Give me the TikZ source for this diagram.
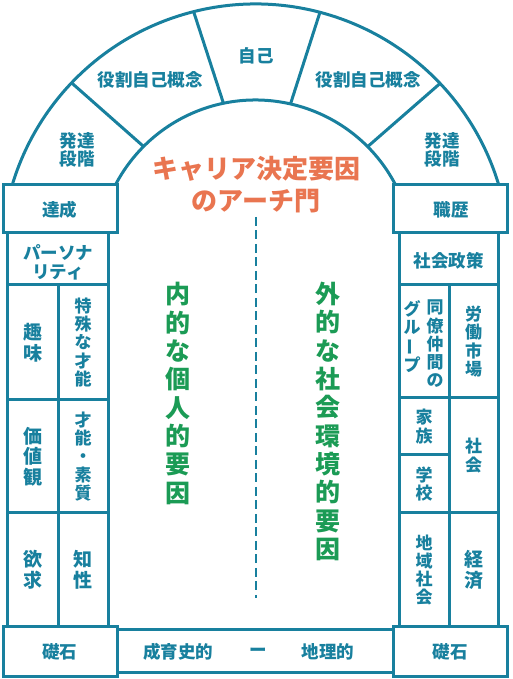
\documentclass[tikz,border=0pt]{standalone}
\usepackage{fontspec}
\setmainfont{Noto Sans CJK JP}
\usetikzlibrary{calc}
\definecolor{archblue}{HTML}{18809E}
\definecolor{innergreen}{HTML}{1B9B55}
\definecolor{titleorange}{HTML}{E97550}
\begin{document}
\begin{tikzpicture}[x=1pt,y=1pt,
    wall/.style={draw=archblue,line width=3pt},
    block/.style={draw=archblue,line width=3pt,fill=white},
    lbl/.style={text=archblue,font=\bfseries\fontsize{17.5}{17.5}\selectfont,align=center,inner sep=0pt},
    tate/.style={text=archblue,font=\bfseries\fontsize{19}{20.5}\selectfont,align=center,inner sep=0pt},
    tatenarrow/.style={text=archblue,font=\bfseries\fontsize{17}{18.2}\selectfont,align=center,inner sep=0pt},
    bigtext/.style={font=\bfseries\fontsize{25}{28.3}\selectfont,align=center,inner sep=0pt}]
      \useasboundingbox (0,0) rectangle (513,679);
      \coordinate (hub) at (255.5,421);
      \draw[wall] ($(hub)+(16.7:254)$) arc (16.7:163.3:254);
      \draw[wall] ($(hub)+(27.5:158)$) arc (27.5:152.5:158);
      \draw[wall] ($(hub)+(104.1:254)$) -- ($(hub)+(101.7:158)$);
      \draw[wall] ($(hub)+(75.3:254)$) -- ($(hub)+(77.2:158)$);
      \draw[wall] ($(hub)+(136.4:254)$) -- ($(hub)+(135.1:158)$);
      \draw[wall] ($(hub)+(43.4:254)$) -- ($(hub)+(44.8:158)$);
      \draw[block] (3,446) rectangle (117,494); \node[lbl] (tassei) at (59.5,469.5) {達成};
      \draw[block] (393,446) rectangle (507,494); \node[lbl] (shokureki) at (451,469.5) {職歴};
      \draw[wall] (7,52) rectangle (108,446);
      \draw[wall] (7,394) -- (108,394);
      \draw[wall] (7,279) -- (108,279);
      \draw[wall] (7,166) -- (108,166);
      \draw[wall] (58,52) -- (58,394);
      \draw[wall] (399,52) rectangle (498,446);
      \draw[wall] (399,394) -- (498,394);
      \draw[wall] (399,281) -- (498,281);
      \draw[wall] (399,224) -- (449,224);
      \draw[wall] (399,166) -- (498,166);
      \draw[wall] (449,52) -- (449,394);
      \draw[block] (117,6) rectangle (393,49);
      \draw[block] (3,2) rectangle (117,52); \node[lbl] (soseki1) at (59.5,27) {礎石};
      \draw[block] (393,2) rectangle (507,52); \node[lbl] (soseki2) at (450,27) {礎石};
      \draw[draw=archblue,line width=2.5pt,dash pattern=on 9pt off 4.5pt] (256,462) -- (256,81);
      \node[lbl] (jiko) at (256,623) {自己};
      \node[lbl] (yakuwari1) at (150,599) {役割自己概念};
      \node[lbl] (yakuwari2) at (368,599) {役割自己概念};
      \node[lbl] (hattatsu1) at (77,529) {発達\\段階};
      \node[lbl] (hattatsu2) at (442,529) {発達\\段階};
      \node[bigtext,text=titleorange,font=\bfseries\fontsize{26}{32}\selectfont] (title) at (256,494) {キャリア決定要因\\のアーチ門};
      \node[bigtext,text=innergreen] (naiteki) at (178,285.5) {内\\的\\な\\個\\人\\的\\要\\因};
      \node[bigtext,text=innergreen] (gaiteki) at (328,257.5) {外\\的\\な\\社\\会\\環\\境\\的\\要\\因};
      \node[lbl,font=\bfseries\fontsize{17.5}{19}\selectfont] (persona) at (58,417) {パーソナ\\リティ};
      \node[tate] (shumi) at (32.5,336.5) {趣\\味};
      \node[tatenarrow] (tokushu) at (83,336.5) {特\\殊\\な\\才\\能};
      \node[tate] (kachikan) at (32.5,222.5) {価\\値\\観};
      \node[tatenarrow] (sainou) at (83,222.5) {才\\能\\・\\素\\質};
      \node[tate] (yokkyu) at (32.5,109) {欲\\求};
      \node[tate] (chisei) at (83,109) {知\\性};
      \node[lbl] (seisaku) at (448.5,418) {社会政策};
      \node[tatenarrow,anchor=north] (douryou) at (435,379) {同\\僚\\仲\\間\\の};
      \node[tatenarrow,anchor=north] (group) at (412,379) {グ\\ル\\\rotatebox[origin=c]{90}{ー}\\プ};
      \node[tatenarrow] (roudou) at (473.5,337.5) {労\\働\\市\\場};
      \node[tatenarrow] (kazoku) at (424,252.5) {家\\族};
      \node[tatenarrow] (gakkou) at (424,195) {学\\校};
      \node[tatenarrow] (shakai) at (473.5,223.5) {社\\会};
      \node[tatenarrow] (chiiki) at (424,109) {地\\域\\社\\会};
      \node[tate] (keizai) at (473.5,109) {経\\済};
      \node[lbl] (seiiku) at (178,27) {成育史的};
      \node[lbl] (bou) at (258,27) {ー};
      \node[lbl] (chiri) at (328,27) {地理的};
     \end{tikzpicture}
\end{document}
